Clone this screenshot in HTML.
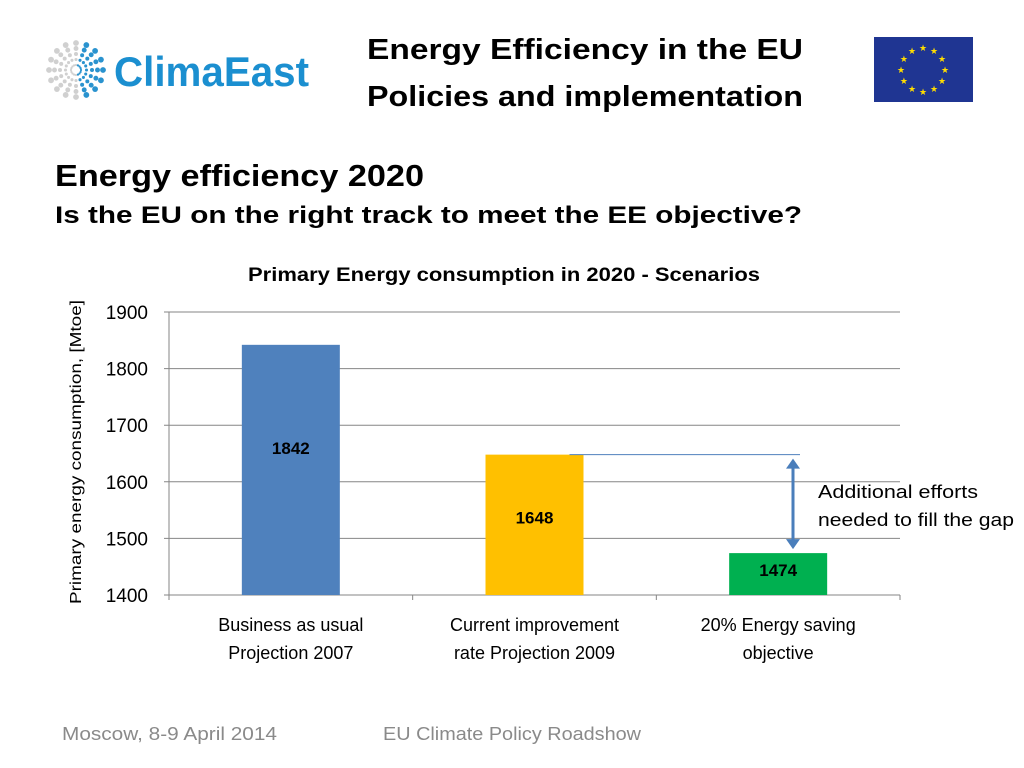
<!DOCTYPE html>
<html><head><meta charset="utf-8"><style>
html,body{margin:0;padding:0;background:#fff;width:1024px;height:768px;overflow:hidden}
svg{display:block;font-family:"Liberation Sans",sans-serif}
</style></head><body>
<svg id="s" width="1024" height="768" viewBox="0 0 1024 768">
<g id="logo"></g>
<text x="114" y="86" font-size="42" font-weight="bold" fill="#1b8fd0" textLength="195" lengthAdjust="spacingAndGlyphs">ClimaEast</text>
<text x="367" y="59" font-size="29" font-weight="bold" fill="#000" textLength="436" lengthAdjust="spacingAndGlyphs">Energy Efficiency in the EU</text>
<text x="367" y="106" font-size="29" font-weight="bold" fill="#000" textLength="436" lengthAdjust="spacingAndGlyphs">Policies and implementation</text>
<g><rect x="874" y="37" width="99" height="65" fill="#1f3592"/><g id="stars"></g></g>
<text x="55" y="186" font-size="31" font-weight="bold" textLength="369" lengthAdjust="spacingAndGlyphs">Energy efficiency 2020</text>
<text x="55" y="223" font-size="24" font-weight="bold" textLength="747" lengthAdjust="spacingAndGlyphs">Is the EU on the right track to meet the EE objective?</text>
<text x="248" y="281" font-size="19" font-weight="bold" textLength="512" lengthAdjust="spacingAndGlyphs">Primary Energy consumption in 2020 - Scenarios</text>
<text transform="translate(81,604) rotate(-90)" font-size="16" textLength="304" lengthAdjust="spacingAndGlyphs">Primary energy consumption,  [Mtoe]</text>
<g id="chart"></g>
<text x="818" y="498" font-size="18" textLength="160" lengthAdjust="spacingAndGlyphs">Additional efforts</text>
<text x="818" y="526" font-size="18" textLength="196" lengthAdjust="spacingAndGlyphs">needed to fill the gap</text>
<text x="62" y="740" font-size="18" fill="#8a8a8a" textLength="215" lengthAdjust="spacingAndGlyphs">Moscow, 8-9 April 2014</text>
<text x="383" y="740" font-size="18" fill="#8a8a8a" textLength="258" lengthAdjust="spacingAndGlyphs">EU Climate Policy Roadshow</text>
</svg>
<script>
const categories1=["Business as usual","Current improvement","20% Energy saving"];
const categories2=["Projection 2007","rate Projection 2009","objective"];
const values=[1842,1648,1474];
const colors=["#4f81bd","#ffc000","#00b050"];
const ticks=[1400,1500,1600,1700,1800,1900];
const NS="http://www.w3.org/2000/svg";
const c=document.getElementById('chart');
const x0=169,x1=900,yMin=1400,yMax=1900,py0=595,py1=312;
const y=v=>py0-(v-yMin)/(yMax-yMin)*(py0-py1);
const bw=(x1-x0)/values.length;
function mk(t,a,p){const e=document.createElementNS(NS,t);for(const k in a)e.setAttribute(k,a[k]);(p||c).appendChild(e);return e;}
ticks.forEach(t=>{
 const l=mk('line',{x1:x0-5,x2:x1,y1:y(t),y2:y(t),stroke:'#868686','stroke-width':1});
 
 
 const tx=mk('text',{x:148,y:y(t)+7,'font-size':19,'text-anchor':'end'});tx.textContent=t;
 
 
});
const ax=mk('line',{x1:x0,x2:x0,y1:py1,y2:py0,stroke:'#868686'});


for(let i=0;i<=values.length;i++){const tk=mk('line',{x1:x0+i*bw,x2:x0+i*bw,y1:py0,y2:py0+5,stroke:'#868686'});
 
 }
values.forEach((v,i)=>{
 const cx=x0+bw*(i+0.5);
 const r=mk('rect',{x:cx-49,y:y(v),width:98,height:py0-y(v),fill:colors[i]});
 
 
 const ly=i==0?y(v)+109:(i==1?y(v)+69:y(v)+23);
 const t=mk('text',{x:cx,y:ly,'font-size':17,'font-weight':'bold','text-anchor':'middle'});t.textContent=v;
 
 
 [categories1[i],categories2[i]].forEach((s,j)=>{const tt=mk('text',{x:cx,y:631+j*28,'font-size':18,'text-anchor':'middle'});tt.textContent=s;
  
  });
});
const gl=mk('line',{x1:x0+bw*1.5+35,x2:800,y1:y(values[1]),y2:y(values[1]),stroke:'#4f81bd'});


const ar=mk('g',{});


const ya=y(values[1])+4,yb=y(values[2])-4;
mk('line',{x1:793,x2:793,y1:ya+8,y2:yb-8,stroke:'#4a7ebb','stroke-width':3},ar);
mk('path',{d:`M786 ${ya+10}L793 ${ya}L800 ${ya+10}Z`,fill:'#4a7ebb'},ar);
mk('path',{d:`M786 ${yb-10}L793 ${yb}L800 ${yb-10}Z`,fill:'#4a7ebb'},ar);
// logo dots
const lg=document.getElementById('logo');
for(let ring=0;ring<5;ring++){const R=5+ring*5.5;for(let k=0;k<16;k++){const a=k/16*2*Math.PI;
 const blue=Math.cos(a)>0.1;mk('circle',{cx:76+R*Math.cos(a),cy:70+R*Math.sin(a),r:1.1+ring*0.45,fill:blue?'#2a93cf':'#d0d0d0'},lg);}}
// stars
const st=document.getElementById('stars');
for(let k=0;k<12;k++){const a=k/12*2*Math.PI;const t=mk('text',{x:923+22*Math.cos(a),y:73+22*Math.sin(a),'font-size':9,fill:'#ffdd00','text-anchor':'middle'},st);t.textContent='★';}
</script>
</body></html>
